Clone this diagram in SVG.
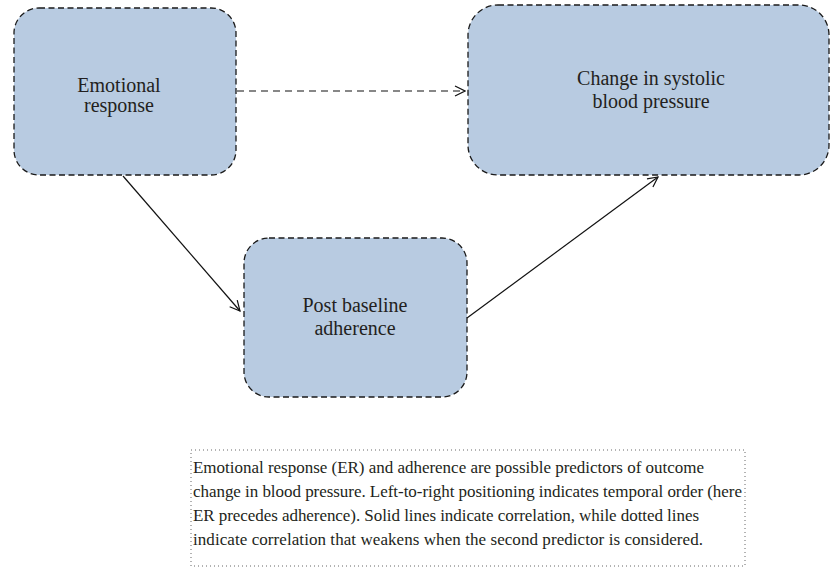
<svg xmlns="http://www.w3.org/2000/svg" width="831" height="581" viewBox="0 0 831 581">
<defs>
<style>
.box{fill:#b8cbe1;stroke:#1a1a1a;stroke-width:1.3;stroke-dasharray:6 3.5}
.lbl{font-family:"Liberation Serif","Times New Roman",serif;font-size:20px;fill:#231f20;text-anchor:middle}
.cap{font-family:"Liberation Serif","Times New Roman",serif;font-size:17px;fill:#231f20}
.edge{fill:none;stroke:#111;stroke-width:1.2}
</style>
<marker id="arr" viewBox="0 0 12 12" refX="11" refY="6" markerWidth="12" markerHeight="12" markerUnits="userSpaceOnUse" orient="auto">
<path d="M1,1 L11,6 L1,11" fill="none" stroke="#111" stroke-width="1.2"/>
</marker>
</defs>
<rect width="831" height="581" fill="#ffffff"/>
<g id="connectors">
<line class="edge" x1="237" y1="91" x2="465" y2="91" stroke-dasharray="7 5" marker-end="url(#arr)"/>
<line class="edge" x1="123" y1="176" x2="240" y2="311" marker-end="url(#arr)"/>
<line class="edge" x1="467" y1="318" x2="658" y2="177" marker-end="url(#arr)"/>
</g>
<g id="emotional-response">
<rect class="box" x="14" y="8" width="222" height="167" rx="25"/>
<text class="lbl" x="119" y="92">Emotional</text>
<text class="lbl" x="119" y="112">response</text>
</g>
<g id="change-sbp">
<rect class="box" x="468" y="5" width="361" height="170" rx="30"/>
<text class="lbl" x="651" y="85">Change in systolic</text>
<text class="lbl" x="651" y="108">blood pressure</text>
</g>
<g id="post-baseline-adherence">
<rect class="box" x="244" y="238" width="223" height="159" rx="25"/>
<text class="lbl" x="355" y="312">Post baseline</text>
<text class="lbl" x="355" y="335">adherence</text>
</g>
<g id="caption">
<rect x="191" y="450" width="554" height="116" fill="none" stroke="#666" stroke-width="1" stroke-dasharray="1 3"/>
<text class="cap" x="193" y="473" textLength="511" lengthAdjust="spacing">Emotional response (ER) and adherence are possible predictors of outcome</text>
<text class="cap" x="193" y="497" textLength="549" lengthAdjust="spacing">change in blood pressure. Left-to-right positioning indicates temporal order (here</text>
<text class="cap" x="193" y="521" textLength="506" lengthAdjust="spacing">ER precedes adherence). Solid lines indicate correlation, while dotted lines</text>
<text class="cap" x="193" y="545" textLength="510" lengthAdjust="spacing">indicate correlation that weakens when the second predictor is considered.</text>
</g>
</svg>
